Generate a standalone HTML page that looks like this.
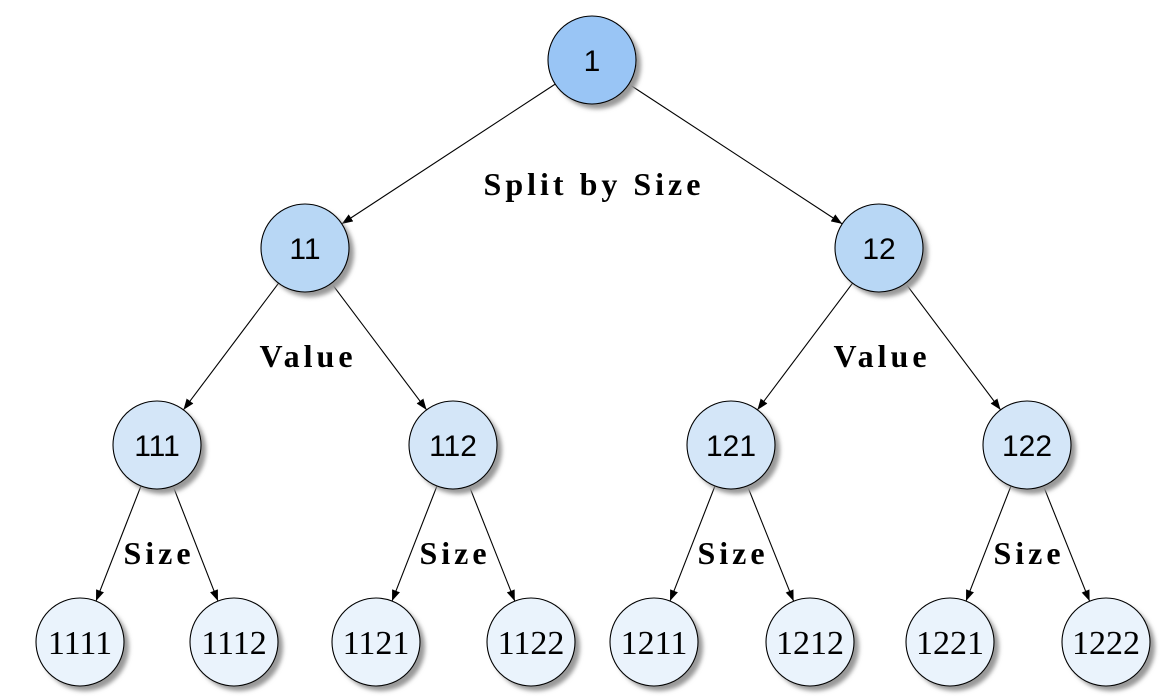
<!DOCTYPE html>
<html><head><meta charset="utf-8"><style>
html,body{margin:0;padding:0;background:#fff;}
svg{display:block;}
</style></head><body>
<svg id="s" width="1167" height="696" viewBox="0 0 1167 696" xmlns="http://www.w3.org/2000/svg">
<defs>
<filter id="b" x="-30%" y="-30%" width="160%" height="160%"><feGaussianBlur stdDeviation="2"/></filter>
<marker id="a" markerWidth="12" markerHeight="10" refX="11" refY="5" orient="auto" markerUnits="userSpaceOnUse">
<path d="M0,0.8 L11,5 L0,9.2 Z" fill="#000"/></marker>
</defs>
<g id="edges" stroke="#000" stroke-width="1.1"></g>
<g id="nodes"></g>
<g font-family="Liberation Serif, serif" font-weight="bold" font-size="32" letter-spacing="4" text-anchor="middle" fill="#000">
<text x="594" y="195">Split by Size</text>
<text x="308" y="367">Value</text>
<text x="882" y="367">Value</text>
<text x="159" y="564">Size</text>
<text x="455" y="564">Size</text>
<text x="733" y="564">Size</text>
<text x="1029" y="564">Size</text>
</g>
<g font-family="Liberation Sans, sans-serif" font-size="30" text-anchor="middle" fill="#000" id="labels">
<text x="592" y="71">1</text>
<text x="305" y="259">11</text>
<text x="879" y="259">12</text>
<text x="157" y="456">111</text>
<text x="453" y="456">112</text>
<text x="731" y="456">121</text>
<text x="1027" y="456">122</text>
<g font-family="Liberation Serif, serif" font-size="34">
<text x="80" y="654">1111</text>
<text x="234" y="654">1112</text>
<text x="376" y="654">1121</text>
<text x="531" y="654">1122</text>
<text x="654" y="654">1211</text>
<text x="810" y="654">1212</text>
<text x="950" y="654">1221</text>
<text x="1106" y="654">1222</text>
</g>
</g>
</svg>
<script>
var N={1:[592,60,'#99c5f5'],11:[305,248,'#b8d7f5'],12:[879,248,'#b8d7f5'],
111:[157,445,'#d4e6f8'],112:[453,445,'#d4e6f8'],121:[731,445,'#d4e6f8'],122:[1027,445,'#d4e6f8'],
1111:[80,642,'#eaf3fc'],1112:[234,642,'#eaf3fc'],1121:[376,642,'#eaf3fc'],1122:[531,642,'#eaf3fc'],
1211:[654,642,'#eaf3fc'],1212:[810,642,'#eaf3fc'],1221:[950,642,'#eaf3fc'],1222:[1106,642,'#eaf3fc']};
var R=44,ns='http://www.w3.org/2000/svg';
var E=document.getElementById('edges'),G=document.getElementById('nodes');
for(var k in N){var p=N[k];
 var sh=document.createElementNS(ns,'circle');sh.setAttribute('cx',p[0]+5);sh.setAttribute('cy',p[1]+5);sh.setAttribute('r',R);sh.setAttribute('fill','#999');sh.setAttribute('filter','url(#b)');G.appendChild(sh);
 var c=document.createElementNS(ns,'circle');c.setAttribute('cx',p[0]);c.setAttribute('cy',p[1]);c.setAttribute('r',R);c.setAttribute('fill',p[2]);c.setAttribute('stroke','#000');c.setAttribute('stroke-width','1.1');G.appendChild(c);
 if(k.length>1){var q=N[k.slice(0,-1)];var dx=p[0]-q[0],dy=p[1]-q[1],L=Math.hypot(dx,dy),ux=dx/L,uy=dy/L;
  var l=document.createElementNS(ns,'line');l.setAttribute('x1',q[0]+R*ux);l.setAttribute('y1',q[1]+R*uy);l.setAttribute('x2',p[0]-R*ux);l.setAttribute('y2',p[1]-R*uy);l.setAttribute('marker-end','url(#a)');E.appendChild(l);}
}
</script>
</body></html>
